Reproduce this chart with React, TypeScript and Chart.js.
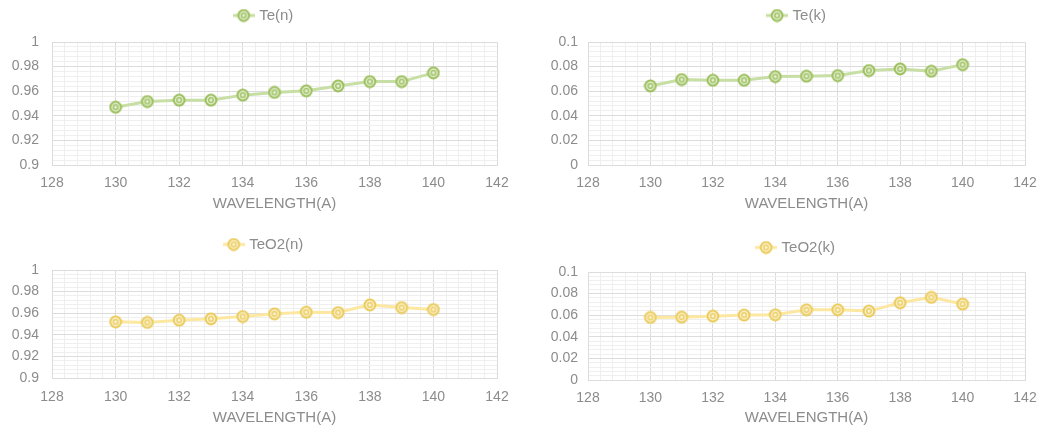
import React, { useEffect, useRef } from 'react';
import { Chart, registerables } from 'chart.js';

Chart.register(...registerables);

// ---------- data ----------
const wavelengths = [130, 131, 132, 133, 134, 135, 136, 137, 138, 139, 140];
const teN = [0.947, 0.9516, 0.9527, 0.9527, 0.9568, 0.959, 0.9603, 0.9643, 0.9678, 0.9678, 0.9749];
const teK = [0.0643, 0.0695, 0.0689, 0.0689, 0.0719, 0.0722, 0.0727, 0.0768, 0.0781, 0.0762, 0.0816];
const teO2N = [0.952, 0.9514, 0.9535, 0.9548, 0.9569, 0.9594, 0.9609, 0.9606, 0.9677, 0.9652, 0.9634];
const teO2K = [0.0579, 0.0582, 0.0591, 0.0601, 0.0604, 0.065, 0.065, 0.0638, 0.0715, 0.0765, 0.0703];
const xMajorTicks = [128, 130, 132, 134, 136, 138, 140, 142];
const nMajorTicks = [0.9, 0.92, 0.94, 0.96, 0.98, 1];
const kMajorTicks = [0, 0.02, 0.04, 0.06, 0.08, 0.1];
const minorDivisions = 5;
const xTitle = 'WAVELENGTH(A)';

// ---------- styling ----------
const FONT = '"Liberation Sans", Arial, sans-serif';
const TEXT = '#8c8c8c';
const GRID_MAJOR = '#dcdcdc';
const GRID_MINOR = '#efefef';
const GREEN = { line: '#c7dfa4', ring: '#9cbf5c', fill: '#e4efd3' };
const YELLOW = { line: '#fde8a2', ring: '#eacb5c', fill: '#fcf2cf' };

function buildTicks(majors: number[]) {
  const out: number[] = [];
  for (let i = 0; i < majors.length - 1; i++) {
    const a = majors[i];
    const b = majors[i + 1];
    for (let j = 0; j < minorDivisions; j++) {
      out.push(Math.round((a + ((b - a) * j) / minorDivisions) * 1e6) / 1e6);
    }
  }
  out.push(majors[majors.length - 1]);
  return out;
}

function majorLabel(majors: number[], v: number) {
  const m = majors.find((t) => Math.abs(t - v) < 1e-7);
  return m === undefined ? null : String(m);
}

function makeMarker(c: { ring: string; fill: string }) {
  const cv = document.createElement('canvas');
  cv.width = 14;
  cv.height = 14;
  const g = cv.getContext('2d')!;
  g.beginPath();
  g.arc(7, 7, 5.4, 0, Math.PI * 2);
  g.fillStyle = c.fill;
  g.fill();
  g.lineWidth = 2;
  g.strokeStyle = c.ring;
  g.stroke();
  g.beginPath();
  g.arc(7, 7, 2.3, 0, Math.PI * 2);
  g.lineWidth = 1.3;
  g.stroke();
  return cv;
}

function makeLegendSymbol(c: { line: string; ring: string; fill: string }) {
  const cv = document.createElement('canvas');
  cv.width = 22;
  cv.height = 14;
  const g = cv.getContext('2d')!;
  g.beginPath();
  g.moveTo(0, 7);
  g.lineTo(22, 7);
  g.lineWidth = 3;
  g.strokeStyle = c.line;
  g.stroke();
  g.drawImage(makeMarker(c), 4, 0);
  return cv;
}

// extra gap under the legend and a horizontal offset of the legend box
const legendTweak = {
  id: 'legendTweak',
  beforeLayout(chart: any, _args: any, opts: any) {
    const lg = chart.legend;
    if (lg && !lg.__gapPatched) {
      const fit = lg.fit.bind(lg);
      lg.fit = () => {
        fit();
        lg.height += opts.extra || 0;
      };
      lg.__gapPatched = true;
    }
  },
  afterLayout(chart: any, _args: any, opts: any) {
    const lg = chart.legend;
    if (lg) {
      lg.left += opts.shift || 0;
      lg.right += opts.shift || 0;
    }
  },
};

type Geo = {
  left: number;
  top: number;
  width: number;
  height: number;
  padRight: number;
  padTop: number;
  yWidth: number;
  yLabelPad: number;
  legendExtra: number;
  legendShift: number;
  xHeight: number;
  xTickPad: number;
  titlePadBottom: number;
};

type PanelProps = {
  label: string;
  values: number[];
  yMajors: number[];
  colors: { line: string; ring: string; fill: string };
  geo: Geo;
};

function Panel({ label, values, yMajors, colors, geo }: PanelProps) {
  const ref = useRef<HTMLCanvasElement | null>(null);

  useEffect(() => {
    if (!ref.current) return;
    const marker = makeMarker(colors);
    const legendSym = makeLegendSymbol(colors);
    const xTicks = buildTicks(xMajorTicks);
    const yTicks = buildTicks(yMajors);
    const gridColor = (majors: number[]) => (ctx: any) =>
      ctx.tick && majorLabel(majors, ctx.tick.value) !== null ? GRID_MAJOR : GRID_MINOR;

    const chart = new Chart(ref.current, {
      type: 'line',
      data: {
        datasets: [
          {
            label,
            data: wavelengths.map((x, i) => ({ x, y: values[i] })),
            borderColor: colors.line,
            backgroundColor: colors.fill,
            borderWidth: 3,
            pointStyle: marker as any,
            pointRadius: 6,
            pointHoverRadius: 6,
            tension: 0,
            fill: false,
          },
        ],
      },
      options: {
        animation: false,
        responsive: false,
        events: [],
        layout: {
          padding: { left: 0, right: geo.padRight, top: geo.padTop, bottom: 0 },
        },
        plugins: {
          tooltip: { enabled: false },
          legend: {
            display: true,
            position: 'top',
            labels: {
              usePointStyle: true,
              pointStyle: legendSym as any,
              pointStyleWidth: 16,
              padding: 8,
              color: TEXT,
              font: { family: FONT, size: 15 },
            },
          },
          legendTweak: { extra: geo.legendExtra, shift: geo.legendShift },
        } as any,
        scales: {
          x: {
            type: 'linear',
            min: xMajorTicks[0],
            max: xMajorTicks[xMajorTicks.length - 1],
            afterBuildTicks: (s: any) => {
              s.ticks = xTicks.map((value) => ({ value }));
            },
            afterFit: (s: any) => {
              s.height = geo.xHeight;
            },
            grid: { color: gridColor(xMajorTicks), drawTicks: false, lineWidth: 1 },
            border: { display: true, color: GRID_MAJOR },
            ticks: {
              autoSkip: false,
              maxRotation: 0,
              padding: geo.xTickPad,
              color: TEXT,
              font: { family: FONT, size: 14 },
              callback: (v: any) => majorLabel(xMajorTicks, Number(v)) ?? '',
            },
            title: {
              display: true,
              text: xTitle,
              color: TEXT,
              font: { family: FONT, size: 15 },
              padding: { top: 0, bottom: geo.titlePadBottom },
            },
          },
          y: {
            type: 'linear',
            min: yMajors[0],
            max: yMajors[yMajors.length - 1],
            afterBuildTicks: (s: any) => {
              s.ticks = yTicks.map((value) => ({ value }));
            },
            afterFit: (s: any) => {
              s.width = geo.yWidth;
            },
            grid: { color: gridColor(yMajors), drawTicks: false, lineWidth: 1 },
            border: { display: true, color: GRID_MAJOR },
            ticks: {
              autoSkip: false,
              padding: geo.yLabelPad,
              color: TEXT,
              font: { family: FONT, size: 14 },
              callback: (v: any) => majorLabel(yMajors, Number(v)) ?? '',
            },
          },
        },
      },
      plugins: [legendTweak as any],
    });
    return () => chart.destroy();
  }, [label, values, yMajors, colors, geo]);

  return (
    <canvas
      ref={ref}
      width={geo.width}
      height={geo.height}
      style={{
        position: 'absolute',
        left: geo.left,
        top: geo.top,
        width: geo.width,
        height: geo.height,
      }}
    />
  );
}

const geoTL: Geo = {
  left: 0, top: 0, width: 526, height: 216,
  padRight: 29, padTop: 0, yWidth: 52, yLabelPad: 13,
  legendExtra: 9, legendShift: 16, xHeight: 51, xTickPad: 10, titlePadBottom: 3.5,
};
const geoTR: Geo = {
  left: 526, top: 0, width: 526, height: 216,
  padRight: 27, padTop: 0, yWidth: 62, yLabelPad: 10,
  legendExtra: 9, legendShift: 22, xHeight: 51, xTickPad: 10, titlePadBottom: 3.5,
};
const geoBL: Geo = {
  left: 0, top: 216, width: 526, height: 216,
  padRight: 29, padTop: 13, yWidth: 52, yLabelPad: 13,
  legendExtra: 8, legendShift: 16, xHeight: 54, xTickPad: 11, titlePadBottom: 5.5,
};
const geoBR: Geo = {
  left: 526, top: 216, width: 526, height: 216,
  padRight: 27, padTop: 16, yWidth: 62, yLabelPad: 10,
  legendExtra: 7, legendShift: 21, xHeight: 52, xTickPad: 10, titlePadBottom: 5.5,
};

export default function App() {
  return (
    <div
      style={{
        position: 'fixed',
        left: 0,
        top: 0,
        width: 1052,
        height: 432,
        background: '#ffffff',
        overflow: 'hidden',
      }}
    >
      <Panel label="Te(n)" values={teN} yMajors={nMajorTicks} colors={GREEN} geo={geoTL} />
      <Panel label="Te(k)" values={teK} yMajors={kMajorTicks} colors={GREEN} geo={geoTR} />
      <Panel label="TeO2(n)" values={teO2N} yMajors={nMajorTicks} colors={YELLOW} geo={geoBL} />
      <Panel label="TeO2(k)" values={teO2K} yMajors={kMajorTicks} colors={YELLOW} geo={geoBR} />
    </div>
  );
}
